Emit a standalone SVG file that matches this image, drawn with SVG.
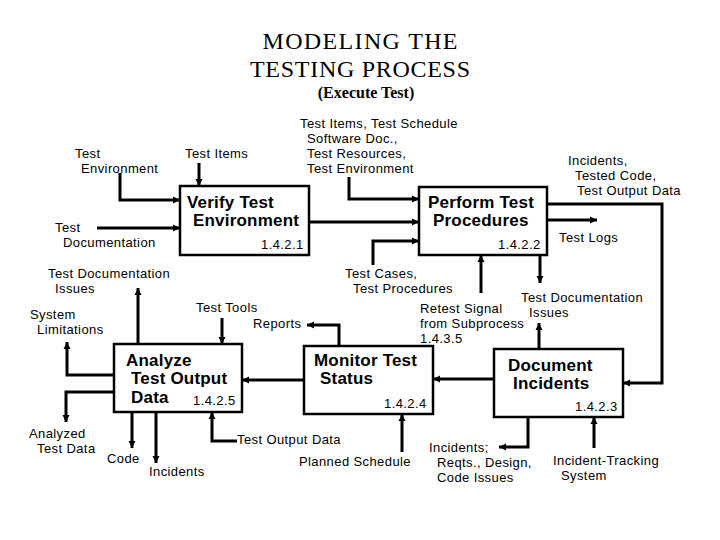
<svg xmlns="http://www.w3.org/2000/svg" width="720" height="540" viewBox="0 0 720 540">
<style>
.t{font-family:"Liberation Serif",serif;fill:#000}
.l{font-family:"Liberation Sans",Arial,sans-serif;font-size:13px;letter-spacing:0.4px;fill:#000}
.b{font-family:"Liberation Sans",Arial,sans-serif;font-size:17px;letter-spacing:0.2px;font-weight:bold;fill:#000}
.n{font-family:"Liberation Sans",Arial,sans-serif;font-size:13px;letter-spacing:0.4px;fill:#000}
.box{fill:#fff;stroke:#000;stroke-width:2.5}
.c{fill:none;stroke:#000;stroke-width:3;marker-end:url(#a)}
</style>
<defs>
<marker id="a" markerUnits="userSpaceOnUse" markerWidth="8" markerHeight="8" refX="7" refY="4" orient="auto">
<path d="M0,0.5 L7,4 L0,7.5 z" fill="#000"/>
</marker>
</defs>
<rect width="720" height="540" fill="#fff"/>
<g id="title">
<text class="t" x="360" y="49" font-size="24" text-anchor="middle" textLength="195" lengthAdjust="spacing">MODELING  THE</text>
<text class="t" x="360" y="77" font-size="24" text-anchor="middle" textLength="220" lengthAdjust="spacing">TESTING  PROCESS</text>
<text class="t" x="366" y="98" font-size="16" font-weight="bold" text-anchor="middle">(Execute Test)</text>
</g>
<g id="connectors">
<path class="c" d="M120,173 V200 H180"/>
<path class="c" d="M97,228 H180"/>
<path class="c" d="M199,163 V186"/>
<path class="c" d="M309,222 H419"/>
<path class="c" d="M349,177 V199 H419"/>
<path class="c" d="M373,265 V241 H419"/>
<path class="c" d="M481,293 V255"/>
<path class="c" d="M540,255 V283"/>
<path class="c" d="M547,204 H662 V383 H623"/>
<path class="c" d="M547,220 H597"/>
<path class="c" d="M539,349 V323"/>
<path class="c" d="M494,379 H433"/>
<path class="c" d="M339,346 V325 H307"/>
<path class="c" d="M304,380 H242"/>
<path class="c" d="M222,318 V344"/>
<path class="c" d="M138,344 V288"/>
<path class="c" d="M114,375 H67 V342"/>
<path class="c" d="M114,392 H66 V422"/>
<path class="c" d="M132,412 V448"/>
<path class="c" d="M156,412 V463"/>
<path class="c" d="M237,441 H212 V412"/>
<path class="c" d="M402,452 V414"/>
<path class="c" d="M528,417 V447 H499"/>
<path class="c" d="M594,448 V417"/>
</g>
<g id="node-1421">
<rect class="box" x="180" y="186" width="129" height="69"/>
<text class="b" x="187" y="208">Verify Test</text>
<text class="b" x="193" y="226">Environment</text>
<text class="n" x="261" y="249">1.4.2.1</text>
</g>
<g id="node-1422">
<rect class="box" x="419" y="187" width="128" height="68"/>
<text class="b" x="428" y="208">Perform Test</text>
<text class="b" x="433" y="226">Procedures</text>
<text class="n" x="498" y="249">1.4.2.2</text>
</g>
<g id="node-1425">
<rect class="box" x="114" y="344" width="128" height="68"/>
<text class="b" x="126" y="366">Analyze</text>
<text class="b" x="131" y="384">Test Output</text>
<text class="b" x="131" y="403">Data</text>
<text class="n" x="193" y="405">1.4.2.5</text>
</g>
<g id="node-1424">
<rect class="box" x="304" y="346" width="129" height="68"/>
<text class="b" x="314" y="366">Monitor Test</text>
<text class="b" x="320" y="384">Status</text>
<text class="n" x="384" y="408">1.4.2.4</text>
</g>
<g id="node-1423">
<rect class="box" x="494" y="349" width="129" height="68"/>
<text class="b" x="508" y="371">Document</text>
<text class="b" x="513" y="389">Incidents</text>
<text class="n" x="575" y="411">1.4.2.3</text>
</g>
<g id="labels">
<text class="l" x="75" y="158">Test</text>
<text class="l" x="81" y="173">Environment</text>
<text class="l" x="185" y="158">Test Items</text>
<text class="l" x="55" y="232">Test</text>
<text class="l" x="63" y="247">Documentation</text>
<text class="l" x="300" y="128">Test Items, Test Schedule</text>
<text class="l" x="307" y="143">Software Doc.,</text>
<text class="l" x="307" y="158">Test Resources,</text>
<text class="l" x="307" y="173">Test Environment</text>
<text class="l" x="568" y="165">Incidents,</text>
<text class="l" x="575" y="180">Tested Code,</text>
<text class="l" x="577" y="195">Test Output Data</text>
<text class="l" x="559" y="242">Test Logs</text>
<text class="l" x="48" y="278">Test Documentation</text>
<text class="l" x="55" y="293">Issues</text>
<text class="l" x="30" y="319">System</text>
<text class="l" x="37" y="334">Limitations</text>
<text class="l" x="196" y="312">Test Tools</text>
<text class="l" x="253" y="328">Reports</text>
<text class="l" x="345" y="278">Test Cases,</text>
<text class="l" x="353" y="293">Test Procedures</text>
<text class="l" x="420" y="313">Retest Signal</text>
<text class="l" x="420" y="328">from Subprocess</text>
<text class="l" x="420" y="343">1.4.3.5</text>
<text class="l" x="521" y="302">Test Documentation</text>
<text class="l" x="529" y="317">Issues</text>
<text class="l" x="29" y="438">Analyzed</text>
<text class="l" x="37" y="453">Test Data</text>
<text class="l" x="107" y="463">Code</text>
<text class="l" x="149" y="476">Incidents</text>
<text class="l" x="237" y="444">Test Output Data</text>
<text class="l" x="299" y="466">Planned Schedule</text>
<text class="l" x="429" y="452">Incidents;</text>
<text class="l" x="437" y="467">Reqts., Design,</text>
<text class="l" x="437" y="482">Code Issues</text>
<text class="l" x="553" y="465">Incident-Tracking</text>
<text class="l" x="561" y="480">System</text>
</g>
</svg>
